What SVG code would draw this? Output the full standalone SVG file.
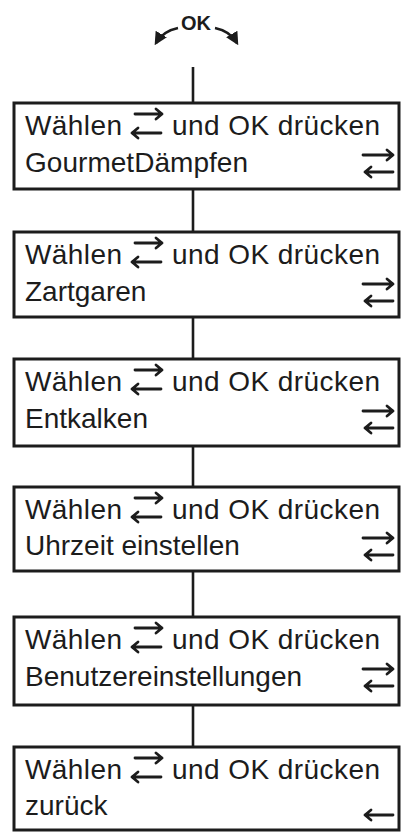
<svg xmlns="http://www.w3.org/2000/svg" xmlns:xlink="http://www.w3.org/1999/xlink" width="409" height="835" viewBox="0 0 409 835">
<style>
.box{fill:#fff;stroke:#1c1c1c;stroke-width:3}
.t{font-family:"Liberation Sans",Arial,sans-serif;font-size:28px;fill:#1c1c1c}
.ok{font-family:"Liberation Sans",Arial,sans-serif;font-size:20px;font-weight:bold;fill:#1c1c1c}
.ar{fill:none;stroke:#1c1c1c;stroke-width:2.8;stroke-linecap:round;stroke-linejoin:round}
.con{stroke:#1c1c1c;stroke-width:2.6;fill:none}
</style>
<defs>
<marker id="ah" viewBox="0 0 10 10" refX="8" refY="5" markerWidth="5" markerHeight="5" orient="auto">
<path d="M0,0 L10,5 L0,10 Z" fill="#1c1c1c"/>
</marker>
<g id="swap1" class="ar">
<path d="M3,0 H30 M24,-5 L30,0 L24,5"/>
<path d="M0,19 H29 M6,14 L0,19 L6,24"/>
</g>
<g id="swap2" class="ar">
<path d="M0,0 H30 M24,-5 L30,0 L24,5"/>
<path d="M2,17 H30 M8,12 L2,17 L8,22"/>
</g>
<g id="back" class="ar">
<path d="M0,0 H28 M6,-5 L0,0 L6,5"/>
</g>
</defs>

<g id="ok-key">
<text class="ok" x="196" y="30" text-anchor="middle">OK</text>
<path class="con" d="M178,28 Q163,31 156,43" marker-end="url(#ah)"/>
<path class="con" d="M215,28 Q230,31 237,43" marker-end="url(#ah)"/>
</g>

<g id="connectors">
<line class="con" x1="193" y1="67" x2="193" y2="103"/>
<line class="con" x1="193" y1="189" x2="193" y2="232"/>
<line class="con" x1="193" y1="317" x2="193" y2="359"/>
<line class="con" x1="193" y1="446" x2="193" y2="487"/>
<line class="con" x1="193" y1="571" x2="193" y2="617"/>
<line class="con" x1="193" y1="705" x2="193" y2="747"/>
</g>

<g id="node1">
<rect class="box" x="14" y="103" width="385" height="86"/>
<text class="t" x="25" y="135" textLength="97">Wählen</text>
<use xlink:href="#swap1" x="132" y="114"/>
<text class="t" x="172" y="135" textLength="208">und OK drücken</text>
<text class="t" x="25" y="172" textLength="223">GourmetDämpfen</text>
<use xlink:href="#swap2" x="363" y="155"/>
</g>

<g id="node2">
<rect class="box" x="14" y="232" width="385" height="85"/>
<text class="t" x="25" y="264" textLength="97">Wählen</text>
<use xlink:href="#swap1" x="132" y="243"/>
<text class="t" x="172" y="264" textLength="208">und OK drücken</text>
<text class="t" x="25" y="301">Zartgaren</text>
<use xlink:href="#swap2" x="363" y="284"/>
</g>

<g id="node3">
<rect class="box" x="14" y="359" width="385" height="87"/>
<text class="t" x="25" y="391" textLength="97">Wählen</text>
<use xlink:href="#swap1" x="132" y="370"/>
<text class="t" x="172" y="391" textLength="208">und OK drücken</text>
<text class="t" x="25" y="428">Entkalken</text>
<use xlink:href="#swap2" x="363" y="411"/>
</g>

<g id="node4">
<rect class="box" x="14" y="487" width="385" height="84"/>
<text class="t" x="25" y="519" textLength="97">Wählen</text>
<use xlink:href="#swap1" x="132" y="498"/>
<text class="t" x="172" y="519" textLength="208">und OK drücken</text>
<text class="t" x="25" y="555">Uhrzeit einstellen</text>
<use xlink:href="#swap2" x="363" y="538"/>
</g>

<g id="node5">
<rect class="box" x="14" y="617" width="385" height="88"/>
<text class="t" x="25" y="649" textLength="97">Wählen</text>
<use xlink:href="#swap1" x="132" y="628"/>
<text class="t" x="172" y="649" textLength="208">und OK drücken</text>
<text class="t" x="25" y="686">Benutzereinstellungen</text>
<use xlink:href="#swap2" x="363" y="669"/>
</g>

<g id="node6">
<rect class="box" x="14" y="747" width="385" height="83"/>
<text class="t" x="25" y="779" textLength="97">Wählen</text>
<use xlink:href="#swap1" x="132" y="758"/>
<text class="t" x="172" y="779" textLength="208">und OK drücken</text>
<text class="t" x="25" y="815">zurück</text>
<use xlink:href="#back" x="365" y="815"/>
</g>
</svg>
